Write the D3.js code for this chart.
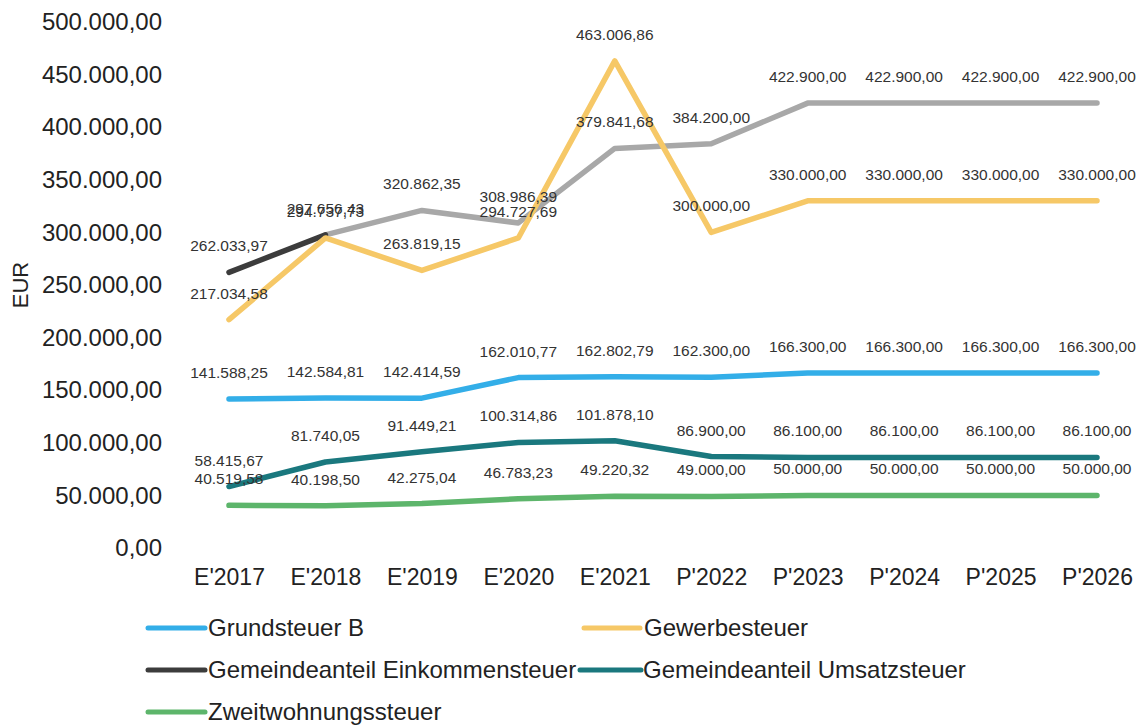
<!DOCTYPE html>
<html>
<head>
<meta charset="utf-8">
<script src="https://cdn.jsdelivr.net/npm/d3@7"></script>
<style>
  body { margin: 0; background: #fff; }
  svg { display: block; font-family: "Liberation Sans", Arial, sans-serif; }
</style>
</head>
<body>
<svg id="chart" width="1143" height="726"></svg>
<script>
// data
const years = ["E'2017", "E'2018", "E'2019", "E'2020", "E'2021", "P'2022", "P'2023", "P'2024", "P'2025", "P'2026"];
const grundsteuer = [141588.25, 142584.81, 142414.59, 162010.77, 162802.79, 162300.00, 166300.00, 166300.00, 166300.00, 166300.00];
const gewerbesteuer = [217034.58, 294737.73, 263819.15, 294727.69, 463006.86, 300000.00, 330000.00, 330000.00, 330000.00, 330000.00];
const einkommenIst = [262033.97, 297656.43, null, null, null, null, null, null, null, null];
const einkommenGrau = [null, 297656.43, 320862.35, 308986.39, 379841.68, 384200.00, 422900.00, 422900.00, 422900.00, 422900.00];
const umsatzsteuer = [58415.67, 81740.05, 91449.21, 100314.86, 101878.10, 86900.00, 86100.00, 86100.00, 86100.00, 86100.00];
const zweitwohnung = [40519.58, 40198.50, 42275.04, 46783.23, 49220.32, 49000.00, 50000.00, 50000.00, 50000.00, 50000.00];
const yTicks = [0, 50000, 100000, 150000, 200000, 250000, 300000, 350000, 400000, 450000, 500000];

const series = [
    { name: 'Grundsteuer B', values: grundsteuer, color: '#33aee8', labelFrom: 0 },
    { name: 'Gewerbesteuer', values: gewerbesteuer, color: '#f6c867', labelFrom: 0 },
    { name: null, values: einkommenGrau, color: '#a8a8a8', labelFrom: 1 },
    { name: 'Gemeindeanteil Einkommensteuer', values: einkommenIst, color: '#3c3c3c', labelFrom: 0, labelTo: 0 },
    { name: 'Gemeindeanteil Umsatzsteuer', values: umsatzsteuer, color: '#1a787e', labelFrom: 0 },
    { name: 'Zweitwohnungssteuer', values: zweitwohnung, color: '#5db56b', labelFrom: 0 }
];

const de = d3.formatLocale({ decimal: ',', thousands: '.', grouping: [3], currency: ['', ' €'] });
const fmt = de.format(',.2f');

const svg = d3.select('#chart');

const x = d3.scalePoint().domain(years).range([229, 1097]);
const y = d3.scaleLinear().domain([0, 500000]).range([548, 22]);

// y axis
const yAxis = svg.append('g')
    .attr('transform', 'translate(229,0)')
    .call(d3.axisLeft(y).tickValues(yTicks).tickSize(0).tickPadding(67).tickFormat(fmt));
yAxis.select('.domain').remove();
yAxis.selectAll('text')
    .attr('font-size', 24)
    .attr('fill', '#222')
    .attr('font-family', '"Liberation Sans", Arial, sans-serif');

svg.append('text')
    .attr('transform', 'translate(28,285) rotate(-90)')
    .attr('text-anchor', 'middle')
    .attr('font-size', 22)
    .attr('fill', '#222')
    .text('EUR');

// x axis
const xAxis = svg.append('g')
    .attr('transform', 'translate(0,548)')
    .call(d3.axisBottom(x).tickSize(0).tickPadding(21));
xAxis.select('.domain').remove();
xAxis.selectAll('text')
    .attr('font-size', 23)
    .attr('fill', '#222')
    .attr('font-family', '"Liberation Sans", Arial, sans-serif');

// lines
const line = d3.line()
    .defined(function(d) { return d != null; })
    .x(function(d, i) { return x(years[i]); })
    .y(function(d) { return y(d); });

const drawOrder = [5, 4, 0, 2, 3, 1];
drawOrder.forEach(function(k) {
    const s = series[k];
    svg.append('path')
        .datum(s.values)
        .attr('fill', 'none')
        .attr('stroke', s.color)
        .attr('stroke-width', 5.5)
        .attr('stroke-linecap', 'round')
        .attr('stroke-linejoin', 'round')
        .attr('d', line);
});

// data labels
series.forEach(function(s) {
    const pts = s.values.map(function(v, i) { return { v: v, i: i }; })
        .filter(function(d) {
            return d.v != null && d.i >= s.labelFrom && (s.labelTo === undefined || d.i <= s.labelTo);
        });
    svg.append('g').selectAll('text')
        .data(pts)
        .join('text')
        .attr('x', function(d) { return x(years[d.i]); })
        .attr('y', function(d) { return y(d.v) - 21; })
        .attr('text-anchor', 'middle')
        .attr('font-size', 15.5)
        .attr('fill', '#333')
        .text(function(d) { return fmt(d.v); });
});

// legend
const legendItems = series.filter(function(s) { return s.name; });
const legendPos = [[148, 628], [584, 628], [148, 670], [580, 670], [148, 712]];
legendItems.forEach(function(s, i) {
    const p = legendPos[i];
    const g = svg.append('g').attr('transform', 'translate(' + p[0] + ',' + p[1] + ')');
    g.append('line')
        .attr('x1', 0).attr('x2', (i === 3 ? 61 : (i === 1 ? 56 : 57)))
        .attr('stroke', s.color)
        .attr('stroke-width', 5)
        .attr('stroke-linecap', 'round');
    g.append('text')
        .attr('x', (i === 3 ? 63 : 60))
        .attr('y', 8)
        .attr('font-size', 24)
        .attr('fill', '#222')
        .text(s.name);
});
</script>
</body>
</html>
